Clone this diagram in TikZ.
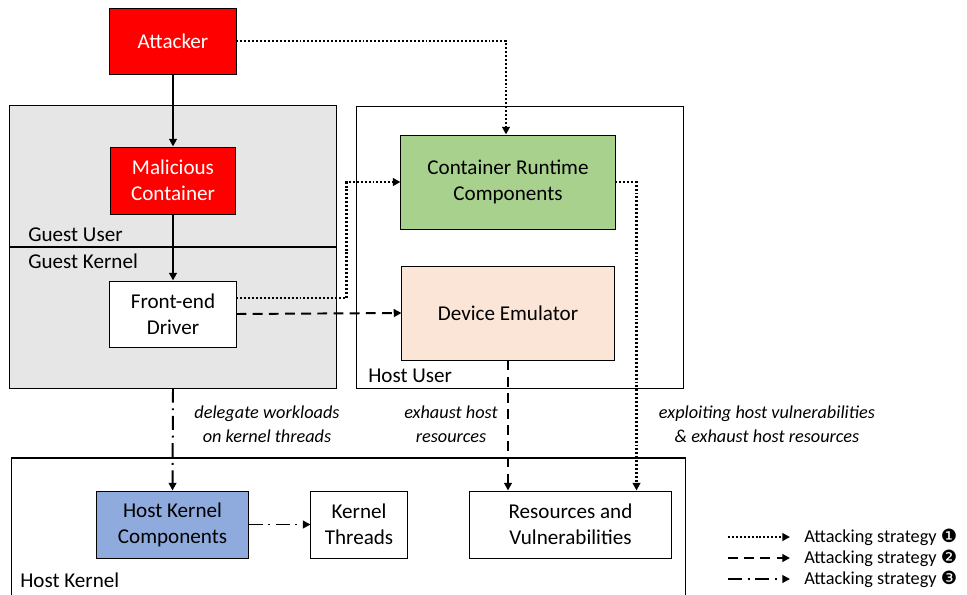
\documentclass[tikz,border=0pt]{standalone}
\usepackage{fontspec}
\setmainfont{Carlito}
\newfontfamily\dingfont{DejaVu Sans}
\usetikzlibrary{arrows.meta}

\definecolor{guestgray}{RGB}{230,230,230}
\definecolor{attackred}{RGB}{255,0,0}
\definecolor{runtimegreen}{RGB}{169,209,142}
\definecolor{emupeach}{RGB}{251,229,214}
\definecolor{kernelblue}{RGB}{143,170,220}

\tikzset{
  comp/.style={draw, line width=0.7pt, align=center, inner sep=0pt,
    font=\fontsize{15}{18.4}\selectfont},
  region/.style={draw, line width=0.75pt, inner sep=0pt},
  tag/.style={anchor=west, inner sep=0pt, font=\fontsize{15}{18}\selectfont},
  note/.style={align=center, inner sep=0pt, font=\fontsize{13}{17}\selectfont\itshape},
  flow/.style={line width=1.4pt, -{Triangle[length=5.5pt,width=5.5pt]}},
  strat1/.style={flow, line width=1.6pt, dash pattern=on 1.4pt off 1.4pt},
  strat2/.style={flow, dash pattern=on 7pt off 4.5pt},
  strat3/.style={flow, dash pattern=on 10pt off 4pt on 1.4pt off 4pt},
}

\begin{document}
\begin{tikzpicture}[x=0.025cm, y=-0.025cm]
  \useasboundingbox (0,0) rectangle (967,594);

  % regions
  \node[region, fill=guestgray, minimum width=8.15cm, minimum height=7.05cm] (guest) at (173,247) {};
  \draw[line width=0.75pt] (guest.west) -- (guest.east);
  \node[region, minimum width=8.15cm, minimum height=7.025cm] (hostu) at (520,247.5) {};
  \node[region, minimum width=16.825cm, minimum height=3.55cm] (hostk) at (348.5,529) {};

  \node[tag] at (28,235) {Guest User};
  \node[tag] at (28,261) {Guest Kernel};
  \node[tag] at (368,376) {Host User};
  \node[tag] at (20,580) {Host Kernel};

  % components
  \node[comp, fill=attackred, text=white, minimum width=3.15cm, minimum height=1.65cm] (atk) at (173,41) {Attacker};
  \node[comp, fill=attackred, text=white, minimum width=3.125cm, minimum height=1.675cm] (mal) at (173,180.5) {Malicious\\Container};
  \node[comp, fill=white, minimum width=3.15cm, minimum height=1.65cm] (fed) at (173,314) {Front-end\\Driver};
  \node[comp, fill=runtimegreen, minimum width=5.35cm, minimum height=2.35cm] (crc) at (508,182) {Container Runtime\\Components};
  \node[comp, fill=emupeach, minimum width=5.3cm, minimum height=2.35cm] (dev) at (508,313) {Device Emulator};
  \node[comp, fill=kernelblue, minimum width=3.775cm, minimum height=1.675cm] (hkc) at (172.5,524.5) {Host Kernel\\Components};
  \node[comp, fill=white, minimum width=2.4cm, minimum height=1.675cm] (kt) at (359,524.5) {Kernel\\Threads};
  \node[comp, fill=white, minimum width=5.025cm, minimum height=1.675cm] (res) at (570.5,524.5) {Resources and\\Vulnerabilities};

  % arrows
  \draw[flow] (atk) -- (mal);
  \draw[flow] (mal) -- (fed);
  \draw[strat1] (atk.east) -| ([xshift=-0.05cm]crc.north);
  \draw[strat1] ([yshift=0.4cm]fed.east) -- ++(110,0) |- (crc.west);
  \draw[strat2] (fed.east) -- (dev.west);
  \draw[strat1] (crc.east) -| ([xshift=1.65cm]res.north);
  \draw[strat2] (dev.south) -- (dev.south |- res.north);
  \draw[strat3] (guest.south) -- (hkc.north);
  \draw[strat3] (hkc.east) -- (kt.west);

  % labels on the arrows
  \node[note] (n1) at (267,424) {delegate workloads\\on kernel threads};
  \node[note] (n2) at (451,424) {exhaust host\\resources};
  \node[note] (n3) at (767,424) {exploiting host vulnerabilities\\\& exhaust host resources};

  % legend
  \node[tag, font=\fontsize{13}{15}\selectfont] (lg1) at (804,537) {Attacking strategy {\dingfont ❶}};
  \node[tag, font=\fontsize{13}{15}\selectfont] (lg2) at (804,558) {Attacking strategy {\dingfont ❷}};
  \node[tag, font=\fontsize{13}{15}\selectfont] (lg3) at (804,579) {Attacking strategy {\dingfont ❸}};
  \draw[strat1] ([xshift=-1.9cm]lg1.west) -- ([xshift=-0.35cm]lg1.west);
  \draw[strat2] ([xshift=-1.9cm]lg2.west) -- ([xshift=-0.35cm]lg2.west);
  \draw[strat3] ([xshift=-1.9cm]lg3.west) -- ([xshift=-0.35cm]lg3.west);
\end{tikzpicture}
\end{document}
